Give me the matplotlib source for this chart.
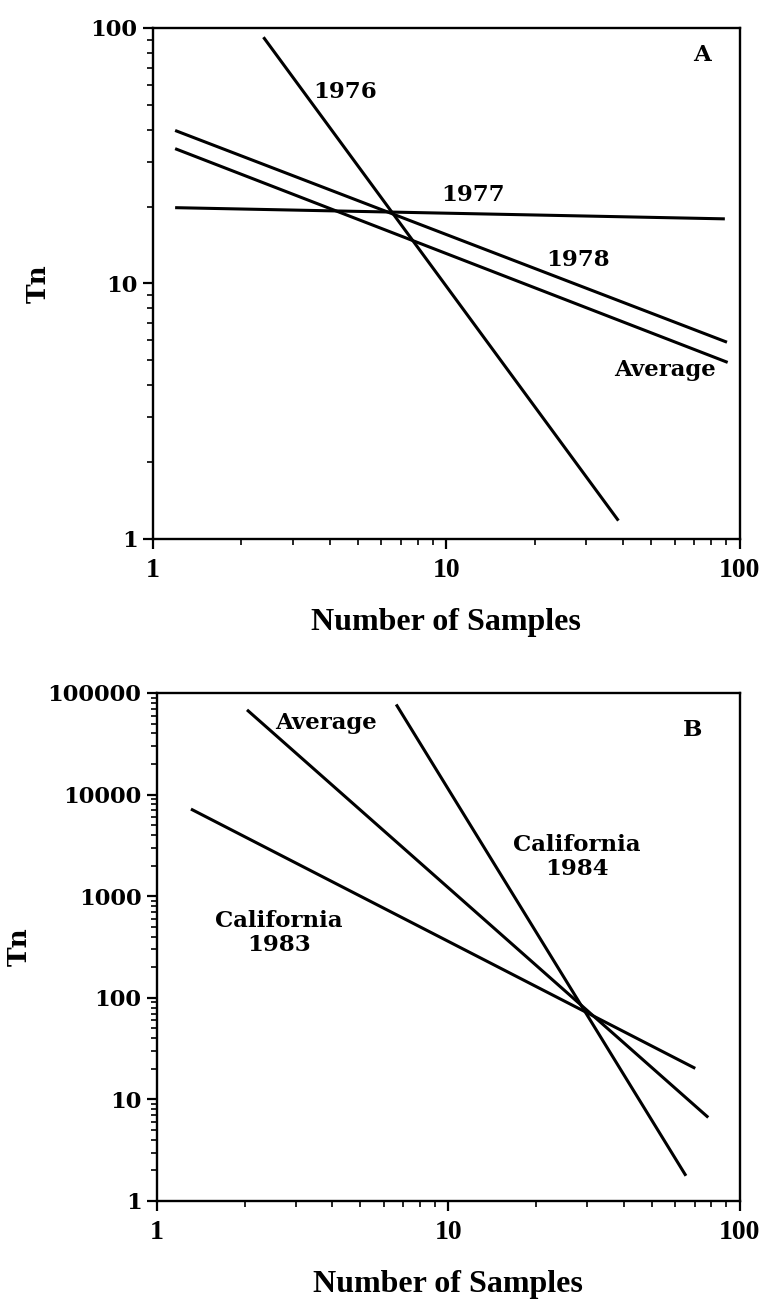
import matplotlib

matplotlib.use("Agg")

import matplotlib.pyplot as plt
from matplotlib.ticker import LogLocator, NullFormatter

# panel A: line endpoints
a_1976_n = [2.38, 38.6]
a_1976_tn = [92.0, 1.18]
a_1977_n = [1.19, 89.0]
a_1977_tn = [19.8, 17.9]
a_1978_n = [1.19, 90.5]
a_1978_tn = [39.7, 5.89]
a_avg_n = [1.19, 91.0]
a_avg_tn = [33.7, 4.91]

# panel B
b_avg_n = [2.04, 78.0]
b_avg_tn = [68200.0, 6.64]
b_1984_n = [6.63, 65.4]
b_1984_tn = [77100.0, 1.77]
b_1983_n = [1.31, 70.4]
b_1983_tn = [7200.0, 20.2]

x_ticks = [1, 10, 100]
x_tick_labels = ["1", "10", "100"]
a_y_ticks = [1, 10, 100]
a_y_tick_labels = ["1", "10", "100"]
b_y_ticks = [1, 10, 100, 1000, 10000, 100000]
b_y_tick_labels = ["1", "10", "100", "1000", "10000", "100000"]

SCHOOL = "DejaVu Serif"
TIMES = "Liberation Serif"
LW = 2.2


def style_axis(ax, yticks, ylabels, ylim, ylabel_x) -> None:
    ax.set_xscale("log")
    ax.set_yscale("log")
    ax.set_xlim(1, 100)
    ax.set_ylim(*ylim)
    for spine in ax.spines.values():
        spine.set_linewidth(1.7)
    ax.set_xticks(x_ticks)
    ax.set_xticklabels(x_tick_labels, fontfamily=TIMES, fontweight="bold", fontsize=20)
    ax.set_yticks(yticks)
    ax.set_yticklabels(ylabels, fontfamily=SCHOOL, fontweight="bold", fontsize=16.3)
    ax.xaxis.set_minor_locator(LogLocator(base=10, subs=range(2, 10)))
    ax.yaxis.set_minor_locator(LogLocator(base=10, subs=range(2, 10)))
    ax.xaxis.set_minor_formatter(NullFormatter())
    ax.yaxis.set_minor_formatter(NullFormatter())
    ax.tick_params(which="major", direction="out", length=7, width=1.6, pad=4)
    ax.tick_params(which="minor", direction="out", length=4, width=1.2)
    ax.tick_params(axis="x", which="major", pad=7)
    ax.set_xlabel("Number of Samples", fontfamily=TIMES, fontweight="bold", fontsize=23)
    ax.xaxis.set_label_coords(0.5, -0.135)
    ax.set_ylabel("Tn", fontfamily=SCHOOL, fontweight="bold", fontsize=19)
    ax.yaxis.set_label_coords(ylabel_x, 0.5)


fig = plt.figure(figsize=(7.61, 13.06), dpi=100)

ax_a = fig.add_axes([0.201, 0.5873, 0.771, 0.3913])
for n, tn in [(a_1976_n, a_1976_tn), (a_1977_n, a_1977_tn), (a_1978_n, a_1978_tn), (a_avg_n, a_avg_tn)]:
    ax_a.plot(n, tn, color="black", linewidth=LW, solid_capstyle="butt")
style_axis(ax_a, a_y_ticks, a_y_tick_labels, (1, 100), -0.175)
label_kw = dict(fontfamily=SCHOOL, fontweight="bold", fontsize=16.5, ha="center", va="center")
ax_a.text(4.53, 56, "1976", **label_kw)
ax_a.text(12.35, 22.1, "1977", **label_kw)
ax_a.text(28.1, 12.3, "1978", **label_kw)
ax_a.text(55.6, 4.58, "Average", **label_kw)
ax_a.text(0.935, 0.947, "A", transform=ax_a.transAxes, **label_kw)

ax_b = fig.add_axes([0.206, 0.0804, 0.766, 0.389])
for n, tn in [(b_avg_n, b_avg_tn), (b_1984_n, b_1984_tn), (b_1983_n, b_1983_tn)]:
    ax_b.plot(n, tn, color="black", linewidth=LW, solid_capstyle="butt")
style_axis(ax_b, b_y_ticks, b_y_tick_labels, (1, 100000), -0.215)
ax_b.text(3.8, 50600, "Average", **label_kw)
ax_b.text(27.6, 2440, "California\n1984", linespacing=1.15, **label_kw)
ax_b.text(2.62, 432, "California\n1983", linespacing=1.15, **label_kw)
ax_b.text(0.919, 0.928, "B", transform=ax_b.transAxes, **label_kw)

fig.savefig("out.png", dpi=100)
plt.close(fig)
